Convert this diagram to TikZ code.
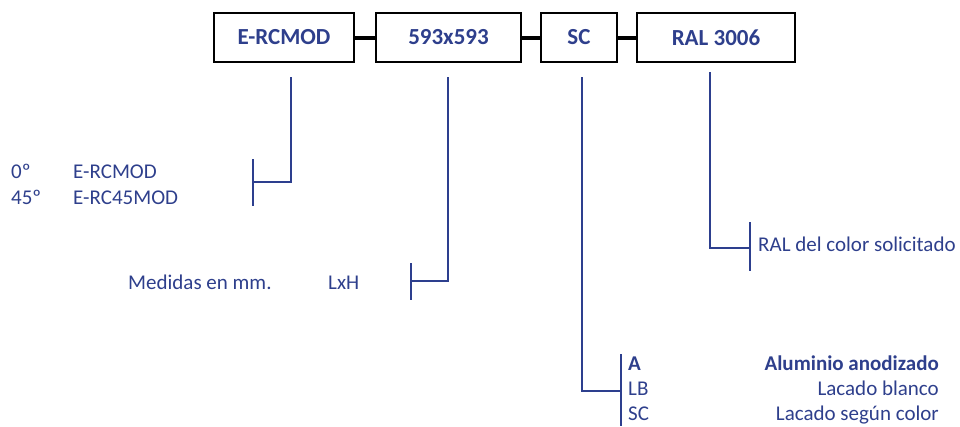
\documentclass[tikz,border=0pt]{standalone}
\usepackage{fontspec}
\setmainfont{Carlito}
\definecolor{txtblue}{HTML}{2E3F8C}
\definecolor{lnblue}{HTML}{2D3F8E}
\begin{document}
\begin{tikzpicture}[x=1pt,y=-1pt,
  box/.style={draw=black,line width=1.8pt,minimum height=49pt,inner sep=0pt,font=\fontsize{23}{27}\selectfont\bfseries,text=txtblue},
  link/.style={draw=black,line width=4pt},
  bl/.style={draw=lnblue,line width=2.9pt},
  lbl/.style={anchor=base west,inner sep=0pt,font=\fontsize{21}{25}\selectfont,text=txtblue},
  lblr/.style={anchor=base east,inner sep=0pt,font=\fontsize{21}{25}\selectfont,text=txtblue}]
\useasboundingbox (0,0) rectangle (960,426);
% code boxes
\node[box,minimum width=140pt] (b1) at (284,37.5) {E-RCMOD};
\node[box,minimum width=145pt] (b2) at (448.5,37.5) {593x593};
\node[box,minimum width=76pt] (b3) at (579,37.5) {SC};
\node[box,minimum width=158pt] (b4) at (716,37.5) {RAL 3006};
\draw[link] (b1.east) -- (b2.west);
\draw[link] (b2.east) -- (b3.west);
\draw[link] (b3.east) -- (b4.west);
% bracket coordinates
\coordinate (t1) at (291,77);
\coordinate (c1) at (291,182);
\coordinate (k1) at (253,182);
\coordinate (k1a) at (253,159);
\coordinate (k1b) at (253,206);
\coordinate (t2) at (448,77);
\coordinate (c2) at (448,281);
\coordinate (k2) at (411,281);
\coordinate (k2a) at (411,263);
\coordinate (k2b) at (411,300);
\coordinate (t3) at (582,77);
\coordinate (c3) at (582,391);
\coordinate (k3) at (621,391);
\coordinate (k3a) at (621,354);
\coordinate (k3b) at (621,426);
\coordinate (t4) at (710,72);
\coordinate (c4) at (710,248);
\coordinate (k4) at (750,248);
\coordinate (k4a) at (750,222);
\coordinate (k4b) at (750,271);
% brackets
\draw[bl] (t1) -- (c1) -- (k1);
\draw[bl] (k1a) -- (k1b);
\draw[bl] (t2) -- (c2) -- (k2);
\draw[bl] (k2a) -- (k2b);
\draw[bl] (t3) -- (c3) -- (k3);
\draw[bl] (k3a) -- (k3b);
\draw[bl] (t4) -- (c4) -- (k4);
\draw[bl] (k4a) -- (k4b);
% labels
\node[lbl] (l0a) at (11,178) {0º};
\node[lbl] (l0b) at (73,178) {E-RCMOD};
\node[lbl] (l45a) at (11,204) {45º};
\node[lbl] (l45b) at (73,204) {E-RC45MOD};
\node[lbl] (lmed) at (128,289) {Medidas en mm.};
\node[lbl] (llxh) at (328,289) {LxH};
\node[lbl] (lral) at (758,251) {RAL del color solicitado};
\node[lbl,font=\fontsize{21}{25}\selectfont\bfseries] (la) at (628,370) {A};
\node[lblr,font=\fontsize{21}{25}\selectfont\bfseries] (lad) at (939,370) {Aluminio anodizado};
\node[lbl] (llb) at (628,395) {LB};
\node[lblr] (llbd) at (939,395) {Lacado blanco};
\node[lbl] (lsc) at (628,420) {SC};
\node[lblr] (lscd) at (939,420) {Lacado según color};
\end{tikzpicture}
\end{document}
